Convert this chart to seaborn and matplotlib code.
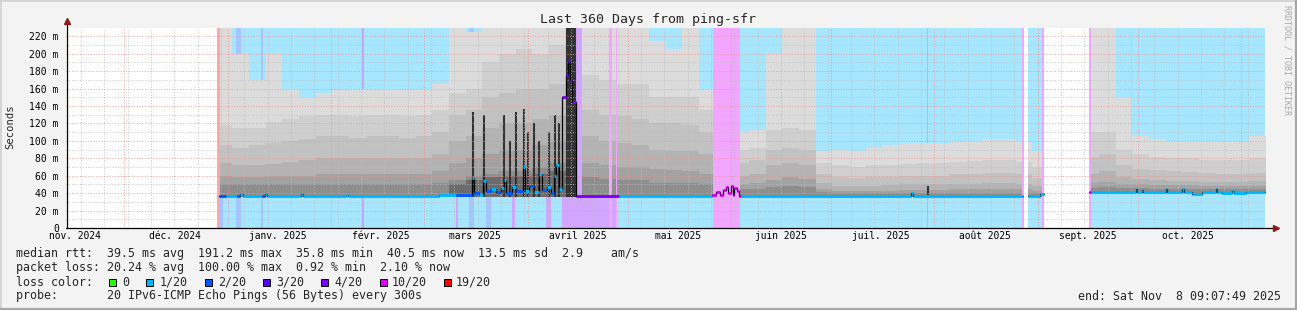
import numpy as np
import pandas as pd
import matplotlib
matplotlib.use("Agg")
import matplotlib.pyplot as plt
import seaborn as sns
from matplotlib.patches import Rectangle
from matplotlib.lines import Line2D
from matplotlib.colors import to_rgb

# ---------------------------------------------------------------- data
start_time = pd.Timestamp("2024-11-13 09:07:49")
end_time = pd.Timestamp("2025-11-08 09:07:49")

month_labels = ["nov. 2024", "déc. 2024", "janv. 2025", "févr. 2025", "mars 2025",
                "avril 2025", "mai 2025", "juin 2025", "juil. 2025", "août 2025",
                "sept. 2025", "oct. 2025"]
y_ticks = [0, 20, 40, 60, 80, 100, 120, 140, 160, 180, 200, 220]
y_tick_labels = ["0", "20 m", "40 m", "60 m", "80 m", "100 m", "120 m", "140 m",
                 "160 m", "180 m", "200 m", "220 m"]

nan = np.nan
# smoke: 5-day bins, start day (offset from start_time), values in ms
smoke_day = [45, 50, 55, 60, 65, 70, 75, 80, 85, 90, 95, 100, 105, 110,
             115, 120, 125, 130, 135, 140, 145, 150,
             155, 160, 165, 170, 175, 180, 185, 190,
             195,
             200, 205, 210, 215, 220,
             225, 230, 235, 240, 245, 250, 255, 260, 265, 270, 275, 280, 285, 290,
             295, 300,
             305, 310, 315, 320, 325, 330, 335, 340, 345, 350, 355]
smoke_low = [35.8, 35.8, 35.8, 35.8, 35.8, 35.8, 35.8, 35.8, 35.8, 35.8, 35.8, 35.8, 35.8, 35.8,
             35.8, 35.8, 35.8, 35.8, 35.8, 35.8, 35.8, 35.8,
             35.8, 35.8, 35.8, 35.8, 35.8, 35.8, 35.8, 35.8,
             35.8,
             35.8, 35.8, 35.8, 35.8, 35.8,
             35.8, 35.8, 35.8, 35.8, 35.8, 35.8, 35.8, 35.8, 35.8, 35.8, 35.8, 35.8, 35.8, 35.8,
             35.8, 35.8,
             40.0, 40.0, 40.0, 40.0, 40.0, 40.0, 40.0, 40.0, 40.0, 40.0, 40.0]
smoke_l1 = [240, 200, 170, 200, 160, 150, 155, 158, 160, 158, 160, 158, 160, 165,
            240, 225, 240, 240, 240, 240, 240, nan,
            240, 240, 240, 240, 215, 205, 240, 160,
            nan,
            110, 112, 200, 240, 240,
            88, 90, 88, 92, 95, 97, 97, 98, 100, 100, 102, 102, 100, 88,
            nan, nan,
            240, 240, 150, 105, 102, 100, 100, 100, 100, 100, 105]
smoke_l2 = [118, 115, 115, 122, 125, 128, 130, 130, 128, 130, 130, 128, 130, 135,
            155, 160, 190, 200, 205, 200, 210, nan,
            175, 170, 165, 165, 150, 150, 150, 135,
            nan,
            90, 92, 112, 115, 112,
            75, 72, 70, 72, 72, 74, 75, 75, 76, 77, 78, 78, 76, 70,
            nan, nan,
            110, 110, 90, 85, 82, 80, 80, 78, 78, 78, 80]
smoke_l3 = [95, 92, 95, 98, 100, 102, 105, 105, 103, 105, 105, 103, 105, 110,
            130, 135, 150, 155, 160, 160, 165, nan,
            135, 130, 128, 125, 120, 120, 118, 110,
            nan,
            75, 78, 90, 92, 90,
            62, 58, 57, 58, 58, 60, 60, 60, 62, 62, 63, 63, 62, 57,
            nan, nan,
            82, 85, 72, 68, 66, 65, 64, 63, 62, 62, 63]
smoke_l4 = [75, 72, 72, 74, 76, 78, 80, 80, 80, 80, 80, 80, 80, 85,
            100, 105, 115, 120, 120, 125, 130, nan,
            105, 100, 98, 95, 90, 88, 88, 85,
            nan,
            60, 62, 72, 75, 72,
            52, 48, 48, 48, 49, 50, 50, 50, 51, 51, 52, 52, 51, 48,
            nan, nan,
            62, 65, 58, 56, 55, 54, 54, 53, 53, 53, 54]
smoke_l5 = [60, 58, 58, 60, 60, 60, 62, 62, 62, 62, 62, 62, 62, 65,
            75, 80, 85, 90, 90, 95, 100, nan,
            75, 72, 70, 70, 68, 66, 65, 62,
            nan,
            50, 52, 55, 58, 56,
            45, 43, 43, 43, 43, 44, 44, 44, 45, 45, 45, 45, 45, 43,
            nan, nan,
            52, 53, 50, 50, 49, 49, 49, 48, 48, 48, 48]
smoke_l6 = [50, 50, 50, 50, 50, 50, 50, 50, 50, 50, 50, 50, 50, 52,
            55, 60, 62, 65, 65, 70, 75, nan,
            58, 56, 55, 55, 52, 52, 52, 50,
            nan,
            45, 45, 47, 48, 47,
            41, 40, 40, 40, 40, 40, 40, 40, 40, 40, 40, 40, 40, 40,
            nan, nan,
            46, 47, 46, 46, 45, 45, 45, 45, 45, 45, 45]
smoke_l7 = [nan, nan, nan, nan, nan, nan, nan, nan, nan, nan, nan, nan, nan, nan,
            50, 55, 58, 60, 60, 62, 65, nan,
            nan, nan, nan, nan, nan, nan, nan, nan,
            nan,
            nan, nan, nan, nan, nan,
            nan, nan, nan, nan, nan, nan, nan, nan, nan, nan, nan, nan, nan, nan,
            nan, nan,
            nan, nan, nan, nan, nan, nan, nan, nan, nan, nan, nan]

# dark spikes of the smoke (day, top in ms)
spike_day = [122.1, 125.4, 131.4, 133.2, 135.0, 137.4, 138.6, 140.4, 141.9, 144.9,
             146.7, 147.9, 150.3, 150.9, 151.5, 152.1, 152.7, 258.6]
spike_top = [133, 130, 130, 100, 133, 137, 110, 120, 100, 110,
             130, 120, 240, 240, 240, 240, 240, 48]

# median rtt (step start day, value in ms, loss level in /20)
median_day = [46.0, 48.0, 51.5, 52.3, 53.2, 59.0, 59.8, 60.5, 70.5, 71.3,
              84.0, 84.6, 108.0, 112.0, 117.0, 121.8, 122.4, 124.0, 125.3, 126.0,
              127.5, 129.0, 130.5, 131.5, 132.2, 134.0, 135.2, 137.1, 137.8, 139.0,
              140.5, 142.0, 142.8, 144.5, 145.5, 146.5, 147.2, 148.0, 148.8, 150.2,
              150.8, 151.4, 152.0, 153.0, 166.0, 194.0, 195.2, 196.3, 197.2, 198.0,
              198.8, 199.5, 200.1, 200.6, 201.3, 202.0, 202.5, 253.7, 254.2, 287.1,
              288.6, 292.4, 293.4, 306.9, 307.5, 321.0, 321.4, 322.8, 323.2, 330.0,
              330.4, 335.0, 335.4, 338.0, 341.0, 345.0, 345.4, 347.0, 349.8, 350.5,
              354.0]
median_val = [36.7, 36.7, 36.7, 39.5, 36.7, 36.7, 38.5, 36.7, 38.5, 36.7,
              38.0, 36.7, 37.0, 38.0, 37.5, 57.0, 40.0, 38.0, 54.0, 42.0,
              45.0, 41.0, 46.0, 55.0, 40.0, 47.0, 42.0, 70.0, 43.0, 48.0,
              41.0, 62.0, 44.0, 47.0, 40.0, 60.0, 72.0, 45.0, 150.0, 175.0,
              192.0, 170.0, 145.0, 36.5, 36.5, 38.0, 41.0, 38.0, 44.0, 47.0,
              40.0, 48.0, 38.0, 46.0, 42.0, 37.0, 36.5, 40.0, 36.5, nan,
              36.5, 39.5, nan, 41.0, 41.0, 45.0, 41.0, 44.0, 41.0, 45.0,
              41.0, 45.0, 41.0, 39.5, 41.0, 45.0, 41.0, 40.0, 42.0, 40.0,
              41.0]
median_loss = [2, 1, 2, 1, 1, 2, 1, 1, 1, 1,
               1, 1, 1, 1, 2, 1, 2, 1, 1, 2,
               1, 2, 1, 1, 2, 1, 2, 1, 1, 2,
               1, 1, 2, 1, 2, 1, 1, 1, 4, 4,
               4, 4, 4, 4, 1, 10, 10, 10, 10, 10,
               10, 10, 10, 10, 10, 10, 1, 1, 1, 1,
               1, 1, 1, 10, 1, 1, 1, 1, 1, 1,
               1, 1, 1, 1, 1, 1, 1, 1, 1, 1,
               1]
median_end = 359.7

# loss background shading (start day, end day, loss level)
bg_start = [45.3, 46.3, 46.3, 51.2, 58.5, 89.0, 117.2, 121.0, 126.0, 134.0,
            144.2, 148.8, 163.0, 165.0, 194.1, 258.4, 287.0, 292.9, 306.9]
bg_end = [46.3, 359.7, 47.2, 52.5, 59.3, 89.4, 117.6, 122.5, 127.5, 134.8,
          145.6, 165.3, 163.9, 165.4, 202.4, 258.7, 287.4, 293.4, 307.6]
bg_loss = [19, 1, 2, 2, 2, 3, 4, 2, 2, 4,
           4, 4, 10, 10, 10, 4, 10, 10, 10]
nodata_start = [0.0, 287.4, 293.4]
nodata_end = [45.3, 288.6, 306.9]

loss_levels = ["0", "1/20", "2/20", "3/20", "4/20", "10/20", "19/20"]
loss_keys = [0, 1, 2, 3, 4, 10, 19]
loss_hex = ["#26ff00", "#00b8ff", "#0059ff", "#5e00ff", "#7e00ff", "#dd00ff", "#ff0000"]

stats_lines = [
    "median rtt:  39.5 ms avg  191.2 ms max  35.8 ms min  40.5 ms now  13.5 ms sd  2.9    am/s",
    "packet loss: 20.24 % avg  100.00 % max  0.92 % min  2.10 % now",
]
probe_line = "probe:       20 IPv6-ICMP Echo Pings (56 Bytes) every 300s"
end_line = "end: Sat Nov  8 09:07:49 2025"
title = "Last 360 Days from ping-sfr"

# ---------------------------------------------------------------- style
sns.set_theme(style="white")
plt.rcParams["font.family"] = ["DejaVu Sans Mono", "DejaVu Sans"]

W, H = 1297, 310
fig = plt.figure(figsize=(W / 100, H / 100), dpi=100, facecolor="#f3f3f3")
ax = fig.add_axes([65.7 / W, (H - 228) / H, 1200 / W, 200 / H])
ax.set_facecolor("white")
ax.set_xlim(0, 360)
ax.set_ylim(0, 229.5)
for s in ax.spines.values():
    s.set_visible(False)

loss_color = dict(zip(loss_keys, loss_hex))


def pale(c, a=0.35):
    r, g, b = to_rgb(c)
    return (1 - a + a * r, 1 - a + a * g, 1 - a + a * b)


def day_of(ts):
    return (pd.Timestamp(ts) - start_time) / pd.Timedelta(days=1)


# background loss shading
for s, e, l in zip(bg_start, bg_end, bg_loss):
    ax.axvspan(s, e, color=pale(loss_color[l]), lw=0, zorder=1 if l < 10 else 3.2)

# smoke layers
bin_w = smoke_day[1] - smoke_day[0]
days_arr = np.asarray(smoke_day, float)
low_arr = np.asarray(smoke_low, float)


def fill_layer(vals, color, z):
    vals = np.asarray(vals, float)
    ok = ~np.isnan(vals)
    n = len(vals)
    i = 0
    while i < n:
        if not ok[i]:
            i += 1
            continue
        j = i
        while j < n and ok[j]:
            j += 1
        x = np.append(days_arr[i:j], days_arr[j - 1] + bin_w)
        top = np.append(vals[i:j], vals[j - 1])
        lo = np.append(low_arr[i:j], low_arr[j - 1])
        ax.fill_between(x, lo, top, step="post", color=color, lw=0, zorder=z)
        i = j


layers = [smoke_l1, smoke_l2, smoke_l3, smoke_l4, smoke_l5, smoke_l6, smoke_l7]
greys = ["#dcdcdc", "#cfcfcf", "#c2c2c2", "#b3b3b3", "#a2a2a2", "#8e8e8e", "#6c6c6c"]
for k, (vals, col) in enumerate(zip(layers, greys)):
    fill_layer(vals, col, 2 + k * 0.01)

ax.vlines(spike_day, 36, spike_top, color="#333333", lw=1.5, zorder=2.6,
          linestyles="solid", capstyle="butt")

# no data
for s, e in zip(nodata_start, nodata_end):
    ax.axvspan(s, e, color="white", lw=0, zorder=3.4)

# grid
dot = (0, (1, 2))
for v in range(10, 230, 20):
    ax.axhline(v, color="#bcbcbc", lw=0.65, ls=dot, zorder=4)
for v in range(20, 230, 20):
    ax.axhline(v, color="#ee9090", lw=0.65, ls=dot, zorder=4.1)
for d in pd.date_range("2024-11-18", end_time, freq="7D"):
    ax.axvline(day_of(d), color="#bcbcbc", lw=0.65, ls=dot, zorder=4)
for d in pd.date_range("2024-12-01", end_time, freq="MS"):
    ax.axvline(day_of(d), color="#ee9090", lw=0.65, ls=dot, zorder=4.1)

# median line
md = np.append(np.asarray(median_day, float), median_end)
mv = np.append(np.asarray(median_val, float), median_val[-1])
okm = ~np.isnan(mv)
i = 0
n = len(median_val)
while i < n:
    if not okm[i]:
        i += 1
        continue
    j = i
    while j < n and okm[j]:
        j += 1
    xs = list(md[i:j]) + [md[j]]
    ys = list(mv[i:j]) + [mv[j - 1]]
    sns.lineplot(x=xs, y=ys, ax=ax, color="black", lw=0.9, drawstyle="steps-post",
                 estimator=None, sort=False, zorder=5)
    i = j
ax.hlines(median_val, median_day, md[1:], colors=[loss_color[l] for l in median_loss],
          lw=2.1, zorder=6)

# axes lines and arrows
ax.plot([0.3, 0.3], [0, 236], color="black", lw=0.9, clip_on=False, zorder=7)
ax.plot([0, 362.5], [0, 0], color="black", lw=0.9, clip_on=False, zorder=7)
ax.plot([0.3], [237.5], marker="^", color="#8b1a1a", ms=4.5, clip_on=False, zorder=8)
ax.plot([363.2], [0], marker=">", color="#8b1a1a", ms=4.5, clip_on=False, zorder=8)

# ticks
ax.set_yticks(y_ticks)
ax.set_yticklabels(y_tick_labels, fontsize=7, color="black")
ax.tick_params(axis="y", length=0, pad=5)
label_pos = [day_of(pd.Timestamp("2024-11-16") + pd.DateOffset(months=k))
             for k in range(len(month_labels))]
ax.set_xticks(label_pos)
ax.set_xticklabels(month_labels, fontsize=6.9, color="black")
ax.tick_params(axis="x", length=0, pad=2.5)
ax.grid(False)

# texts
fig.text(648 / W, 1 - 19 / H, title, ha="center", va="center", fontsize=9.5)
fig.text(10 / W, 1 - 127 / H, "Seconds", rotation=90, ha="center", va="center", fontsize=7.6)
fig.text(1287 / W, 1 - 60 / H, "RRDTOOL / TOBI OETIKER", rotation=270, ha="center",
         va="center", fontsize=6, color="#a8a8a8")
fig.text(16 / W, 1 - 254 / H, stats_lines[0], ha="left", va="center", fontsize=8.4)
fig.text(16 / W, 1 - 268 / H, stats_lines[1], ha="left", va="center", fontsize=8.4)
fig.text(16 / W, 1 - 282 / H, "loss color:", ha="left", va="center", fontsize=8.4)
box_x = [108.7, 146, 204.6, 263, 321, 380, 444]
lab_x = [122, 160, 218, 276, 334, 392, 456]
for bx, lx, lab, col in zip(box_x, lab_x, loss_levels, loss_hex):
    fig.patches.append(Rectangle((bx / W, 1 - 285.5 / H), 7 / W, 7 / H,
                                 transform=fig.transFigure, facecolor=col,
                                 edgecolor="black", lw=0.7))
    fig.text(lx / W, 1 - 282 / H, lab, ha="left", va="center", fontsize=8.4)
fig.text(16 / W, 1 - 296 / H, probe_line, ha="left", va="center", fontsize=8.4)
fig.text(1281 / W, 1 - 296 / H, end_line, ha="right", va="center", fontsize=8.4)

# frame
fig.lines.append(Line2D([0, 1], [1 - 0.5 / H, 1 - 0.5 / H], transform=fig.transFigure,
                        color="#cfcfcf", lw=1.2))
fig.lines.append(Line2D([0.5 / W, 0.5 / W], [0, 1], transform=fig.transFigure,
                        color="#cfcfcf", lw=1.2))
fig.lines.append(Line2D([0, 1], [1 / H, 1 / H], transform=fig.transFigure,
                        color="#a6a6a6", lw=1.6))
fig.lines.append(Line2D([1 - 1 / W, 1 - 1 / W], [0, 1], transform=fig.transFigure,
                        color="#a6a6a6", lw=1.6))

fig.savefig("out.png", dpi=100, facecolor=fig.get_facecolor())
